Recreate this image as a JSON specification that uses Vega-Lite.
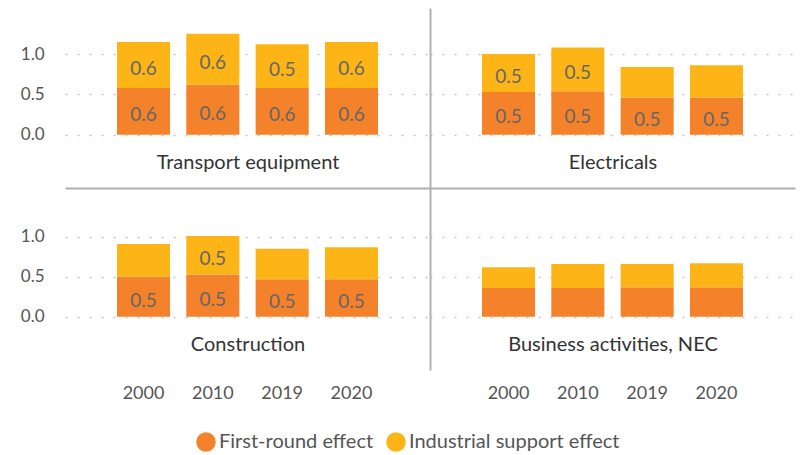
{
  "$schema": "https://vega.github.io/schema/vega-lite/v6.json",
  "padding": {"left": 20, "top": 8, "right": 5, "bottom": 5},
  "background": "white",
  "data": {
    "values": [
      {"sector": "Transport equipment", "year": "2000", "effect": "First-round effect", "value": 0.58},
      {"sector": "Transport equipment", "year": "2000", "effect": "Industrial support effect", "value": 0.57},
      {"sector": "Transport equipment", "year": "2010", "effect": "First-round effect", "value": 0.62},
      {"sector": "Transport equipment", "year": "2010", "effect": "Industrial support effect", "value": 0.63},
      {"sector": "Transport equipment", "year": "2019", "effect": "First-round effect", "value": 0.58},
      {"sector": "Transport equipment", "year": "2019", "effect": "Industrial support effect", "value": 0.54},
      {"sector": "Transport equipment", "year": "2020", "effect": "First-round effect", "value": 0.58},
      {"sector": "Transport equipment", "year": "2020", "effect": "Industrial support effect", "value": 0.57},
      {"sector": "Electricals", "year": "2000", "effect": "First-round effect", "value": 0.53},
      {"sector": "Electricals", "year": "2000", "effect": "Industrial support effect", "value": 0.47},
      {"sector": "Electricals", "year": "2010", "effect": "First-round effect", "value": 0.54},
      {"sector": "Electricals", "year": "2010", "effect": "Industrial support effect", "value": 0.54},
      {"sector": "Electricals", "year": "2019", "effect": "First-round effect", "value": 0.46},
      {"sector": "Electricals", "year": "2019", "effect": "Industrial support effect", "value": 0.38},
      {"sector": "Electricals", "year": "2020", "effect": "First-round effect", "value": 0.46},
      {"sector": "Electricals", "year": "2020", "effect": "Industrial support effect", "value": 0.40},
      {"sector": "Construction", "year": "2000", "effect": "First-round effect", "value": 0.50},
      {"sector": "Construction", "year": "2000", "effect": "Industrial support effect", "value": 0.41},
      {"sector": "Construction", "year": "2010", "effect": "First-round effect", "value": 0.53},
      {"sector": "Construction", "year": "2010", "effect": "Industrial support effect", "value": 0.48},
      {"sector": "Construction", "year": "2019", "effect": "First-round effect", "value": 0.47},
      {"sector": "Construction", "year": "2019", "effect": "Industrial support effect", "value": 0.38},
      {"sector": "Construction", "year": "2020", "effect": "First-round effect", "value": 0.47},
      {"sector": "Construction", "year": "2020", "effect": "Industrial support effect", "value": 0.40},
      {"sector": "Business activities, NEC", "year": "2000", "effect": "First-round effect", "value": 0.36},
      {"sector": "Business activities, NEC", "year": "2000", "effect": "Industrial support effect", "value": 0.26},
      {"sector": "Business activities, NEC", "year": "2010", "effect": "First-round effect", "value": 0.36},
      {"sector": "Business activities, NEC", "year": "2010", "effect": "Industrial support effect", "value": 0.30},
      {"sector": "Business activities, NEC", "year": "2019", "effect": "First-round effect", "value": 0.37},
      {"sector": "Business activities, NEC", "year": "2019", "effect": "Industrial support effect", "value": 0.29},
      {"sector": "Business activities, NEC", "year": "2020", "effect": "First-round effect", "value": 0.37},
      {"sector": "Business activities, NEC", "year": "2020", "effect": "Industrial support effect", "value": 0.30}
    ]
  },
  "columns": 2,
  "spacing": 0,
  "bounds": "flush",
  "resolve": {"scale": {"x": "independent", "y": "independent", "color": "shared"}},
  "concat": [
    {
      "width": 365, "height": 180,
      "transform": [{"filter": "datum.sector === 'Transport equipment'"}],
      "encoding": {
        "x": {"field": "year", "type": "ordinal", "scale": {"paddingInner": 0.235, "paddingOuter": 0.75},
              "axis": {"title": "Transport equipment", "labels": false, "ticks": false, "domain": true, "domainColor": "#b0b0b0", "domainWidth": 2, "titleY": -26, "titleBaseline": "middle"}}
      },
      "layer": [
        {"mark": {"type": "bar"},
         "encoding": {
           "y": {"field": "value", "type": "quantitative", "stack": "zero", "scale": {"domain": [-0.66, 1.57], "nice": false, "zero": false},
                 "axis": {"title": null, "values": [0, 0.5, 1], "format": ".1f", "domain": false, "ticks": false, "labelPadding": 21, "grid": true}},
           "color": {"field": "effect", "type": "nominal", "scale": {"domain": ["First-round effect", "Industrial support effect"], "range": ["#F4822A", "#FDB416"]}, "legend": {"title": null}},
           "order": {"field": "effect", "sort": "ascending"}
         }},
        {"transform": [
           {"stack": "value", "groupby": ["year"], "sort": [{"field": "effect"}], "as": ["v0", "v1"]},
           {"filter": "datum.value >= 0.45"},
           {"calculate": "(datum.v0 + datum.v1) / 2", "as": "mid"}],
         "mark": {"type": "text", "dy": 4, "fontSize": 19, "color": "#666666"},
         "encoding": {"y": {"field": "mid", "type": "quantitative"}, "text": {"field": "value", "type": "quantitative", "format": ".1f"}}}
      ]
    },
    {
      "width": 365, "height": 180,
      "transform": [{"filter": "datum.sector === 'Electricals'"}],
      "encoding": {
        "x": {"field": "year", "type": "ordinal", "scale": {"paddingInner": 0.235, "paddingOuter": 0.75},
              "axis": {"title": "Electricals", "labels": false, "ticks": false, "domain": true, "domainColor": "#b0b0b0", "domainWidth": 2, "titleY": -26, "titleBaseline": "middle"}}
      },
      "layer": [
        {"mark": {"type": "bar"},
         "encoding": {
           "y": {"field": "value", "type": "quantitative", "stack": "zero", "scale": {"domain": [-0.66, 1.57], "nice": false, "zero": false},
                 "axis": {"title": null, "values": [0, 0.5, 1], "labels": false, "domain": true, "domainColor": "#b0b0b0", "domainWidth": 2, "ticks": false, "grid": true}},
           "color": {"field": "effect", "type": "nominal"},
           "order": {"field": "effect", "sort": "ascending"}
         }},
        {"transform": [
           {"stack": "value", "groupby": ["year"], "sort": [{"field": "effect"}], "as": ["v0", "v1"]},
           {"filter": "datum.value >= 0.45"},
           {"calculate": "(datum.v0 + datum.v1) / 2", "as": "mid"}],
         "mark": {"type": "text", "dy": 4, "fontSize": 19, "color": "#666666"},
         "encoding": {"y": {"field": "mid", "type": "quantitative"}, "text": {"field": "value", "type": "quantitative", "format": ".1f"}}}
      ]
    },
    {
      "width": 365, "height": 182,
      "transform": [{"filter": "datum.sector === 'Construction'"}],
      "encoding": {
        "x": {"field": "year", "type": "ordinal", "scale": {"paddingInner": 0.235, "paddingOuter": 0.75},
              "axis": {"title": "Construction", "labels": true, "ticks": false, "domain": false, "labelPadding": 14, "labelAngle": 0, "labelFontSize": 18, "titleY": -26, "titleBaseline": "middle"}}
      },
      "layer": [
        {"mark": {"type": "bar"},
         "encoding": {
           "y": {"field": "value", "type": "quantitative", "stack": "zero", "scale": {"domain": [-0.665, 1.61], "nice": false, "zero": false},
                 "axis": {"title": null, "values": [0, 0.5, 1], "format": ".1f", "domain": false, "ticks": false, "labelPadding": 21, "grid": true}},
           "color": {"field": "effect", "type": "nominal"},
           "order": {"field": "effect", "sort": "ascending"}
         }},
        {"transform": [
           {"stack": "value", "groupby": ["year"], "sort": [{"field": "effect"}], "as": ["v0", "v1"]},
           {"filter": "datum.value >= 0.45"},
           {"calculate": "(datum.v0 + datum.v1) / 2", "as": "mid"}],
         "mark": {"type": "text", "dy": 4, "fontSize": 19, "color": "#666666"},
         "encoding": {"y": {"field": "mid", "type": "quantitative"}, "text": {"field": "value", "type": "quantitative", "format": ".1f"}}}
      ]
    },
    {
      "width": 365, "height": 182,
      "transform": [{"filter": "datum.sector === 'Business activities, NEC'"}],
      "encoding": {
        "x": {"field": "year", "type": "ordinal", "scale": {"paddingInner": 0.235, "paddingOuter": 0.75},
              "axis": {"title": "Business activities, NEC", "labels": true, "ticks": false, "domain": false, "labelPadding": 14, "labelAngle": 0, "labelFontSize": 18, "titleY": -26, "titleBaseline": "middle"}}
      },
      "layer": [
        {"mark": {"type": "bar"},
         "encoding": {
           "y": {"field": "value", "type": "quantitative", "stack": "zero", "scale": {"domain": [-0.665, 1.61], "nice": false, "zero": false},
                 "axis": {"title": null, "values": [0, 0.5, 1], "labels": false, "domain": true, "domainColor": "#b0b0b0", "domainWidth": 2, "ticks": false, "grid": true}},
           "color": {"field": "effect", "type": "nominal"},
           "order": {"field": "effect", "sort": "ascending"}
         }},
        {"transform": [
           {"stack": "value", "groupby": ["year"], "sort": [{"field": "effect"}], "as": ["v0", "v1"]},
           {"filter": "datum.value >= 0.45"},
           {"calculate": "(datum.v0 + datum.v1) / 2", "as": "mid"}],
         "mark": {"type": "text", "dy": 4, "fontSize": 19, "color": "#666666"},
         "encoding": {"y": {"field": "mid", "type": "quantitative"}, "text": {"field": "value", "type": "quantitative", "format": ".1f"}}}
      ]
    }
  ],
  "config": {
    "font": "Lato",
    "view": {"stroke": null},
    "axis": {
      "labelFont": "Lato", "labelFontSize": 17, "labelColor": "#555555",
      "titleFont": "Lato", "titleFontSize": 20, "titleFontWeight": "normal", "titleColor": "#333333",
      "gridColor": "#c4c4c4", "gridDash": [2, 10], "gridWidth": 1.5
    },
    "legend": {
      "orient": "bottom", "direction": "horizontal", "offset": 30,
      "layout": {"bottom": {"anchor": "middle"}},
      "symbolType": "circle", "symbolSize": 380, "symbolStrokeWidth": 0, "symbolOpacity": 1,
      "labelFont": "Lato", "labelFontSize": 20, "labelColor": "#555555", "labelOffset": 3, "labelLimit": 0,
      "columnPadding": 12
    }
  }
}
